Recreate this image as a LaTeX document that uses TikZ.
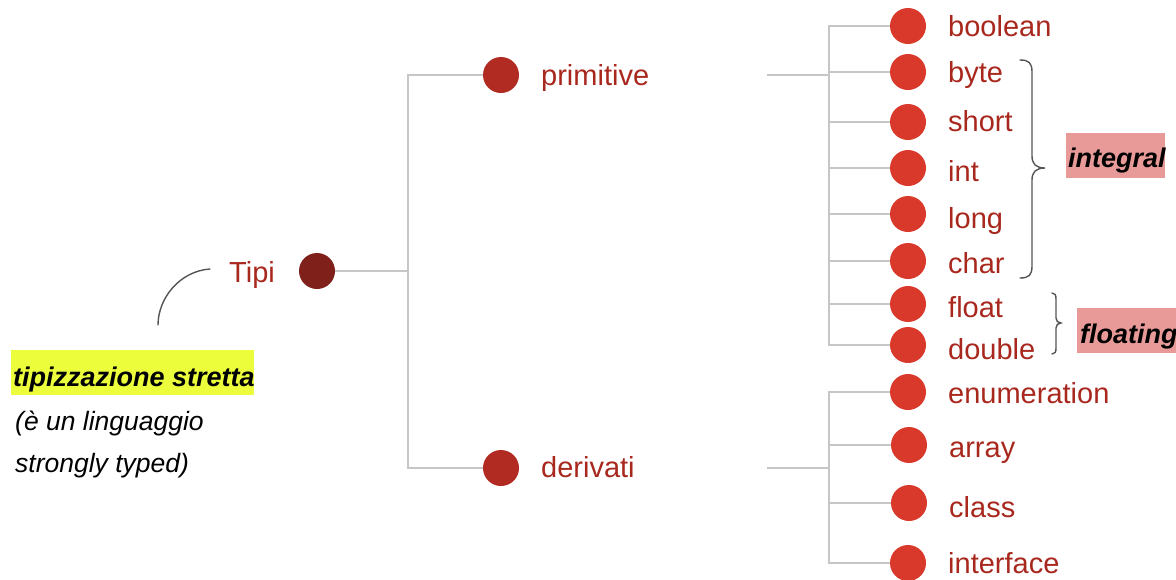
\documentclass[tikz,border=0pt]{standalone}
\usepackage{fontspec}
\setmainfont{Liberation Sans}
\definecolor{rootc}{HTML}{80201A}
\definecolor{midc}{HTML}{B12B22}
\definecolor{leafc}{HTML}{D9392B}
\definecolor{txtc}{HTML}{A8281E}
\definecolor{linec}{HTML}{C6C6C6}
\definecolor{bracec}{HTML}{555555}
\definecolor{hiyellow}{HTML}{ECFD3C}
\definecolor{hipink}{HTML}{E89A98}
\begin{document}
\begin{tikzpicture}[x=1pt,y=-1pt,
  dot/.style={circle,minimum size=36pt,inner sep=0pt,draw=none},
  rootdot/.style={dot,fill=rootc},
  middot/.style={dot,fill=midc},
  leafdot/.style={dot,fill=leafc},
  lbl/.style={anchor=base west,inner sep=0pt,text=txtc,font=\fontsize{29}{34}\selectfont},
  conn/.style={draw=linec,line width=2pt},
  bracket/.style={draw=bracec,line width=1.4pt,line cap=round},
  note/.style={anchor=base west,inner sep=0pt,text=black,font=\fontsize{26.5}{32}\selectfont\itshape},
  notebold/.style={note,font=\fontsize{27}{32}\selectfont\bfseries\itshape}]
\useasboundingbox (0,0) rectangle (1176,579);

% junction points of the tree
\coordinate (j0) at (408,271);
\coordinate (ps) at (767,75);
\coordinate (pj) at (829,75);
\coordinate (ds) at (767,468);
\coordinate (dj) at (829,468);

% dots
\node[rootdot] (root) at (317,271) {};
\node[middot] (prim) at (501,75) {};
\node[middot] (der) at (501,468) {};
\node[leafdot] (boolean) at (908,26) {};
\node[leafdot] (byte) at (908,72) {};
\node[leafdot] (short) at (908,122) {};
\node[leafdot] (int) at (908,168) {};
\node[leafdot] (long) at (908,214) {};
\node[leafdot] (char) at (908,261) {};
\node[leafdot] (float) at (908,304) {};
\node[leafdot] (double) at (908,345) {};
\node[leafdot] (enum) at (908,392) {};
\node[leafdot] (array) at (909,445) {};
\node[leafdot] (class) at (909,503) {};
\node[leafdot] (iface) at (908,563) {};

% connectors
\draw[conn] (root) -- (j0);
\draw[conn] (j0) |- (prim);
\draw[conn] (j0) |- (der);
\draw[conn] (ps) -- (pj);
\foreach \n in {boolean,byte,short,int,long,char,float,double}
  \draw[conn] (pj) |- (\n);
\draw[conn] (ds) -- (dj);
\foreach \n in {enum,array,class,iface}
  \draw[conn] (dj) |- (\n);

% labels
\node[lbl] (tTipi) at (229,282) {Tipi};
\node[lbl] (tprim) at (541,85) {primitive};
\node[lbl] (tder) at (541,477) {derivati};
\node[lbl] (tboolean) at (948,36) {boolean};
\node[lbl] (tbyte) at (948,82) {byte};
\node[lbl] (tshort) at (948,131) {short};
\node[lbl] (tint) at (948,181) {int};
\node[lbl] (tlong) at (948,228) {long};
\node[lbl] (tchar) at (948,273) {char};
\node[lbl] (tfloat) at (948,317) {float};
\node[lbl] (tdouble) at (948,359) {double};
\node[lbl] (tenum) at (948,403) {enumeration};
\node[lbl] (tarray) at (949,457) {array};
\node[lbl] (tclass) at (949,517) {class};
\node[lbl] (tiface) at (948,573) {interface};

% note on strict typing
\coordinate (cstart) at (210,269);
\coordinate (cend) at (158,325);
\draw[bracket] (cstart) .. controls (180,271) and (158,298) .. (cend);
\fill[hiyellow] (11,350) rectangle (254,395);
\node[notebold] (n1) at (13,386) {tipizzazione stretta};
\node[note] (n2) at (15,430) {(è un linguaggio};
\node[note] (n3) at (15,472) {strongly typed)};

% braces and group tags
\draw[bracket] (1020,60) .. controls (1029,60) and (1032,63) .. (1032,72)
  -- (1032,156) .. controls (1032,164) and (1036,168) .. (1045,168)
  .. controls (1036,168) and (1032,172) .. (1032,180)
  -- (1032,266) .. controls (1032,275) and (1029,278) .. (1020,278);
\draw[bracket] (1052,293) .. controls (1055,293) and (1056,295) .. (1056,299)
  -- (1056,318) .. controls (1056,321) and (1058,323) .. (1061,323)
  .. controls (1058,323) and (1056,325) .. (1056,328)
  -- (1056,348) .. controls (1056,352) and (1055,354) .. (1052,354);
\fill[hipink] (1066,133) rectangle (1165,178);
\node[notebold] (tintegral) at (1068,167) {integral};
\fill[hipink] (1077,308) rectangle (1176,353);
\node[notebold] (tfloating) at (1080,343) {floating};
\end{tikzpicture}
\end{document}
